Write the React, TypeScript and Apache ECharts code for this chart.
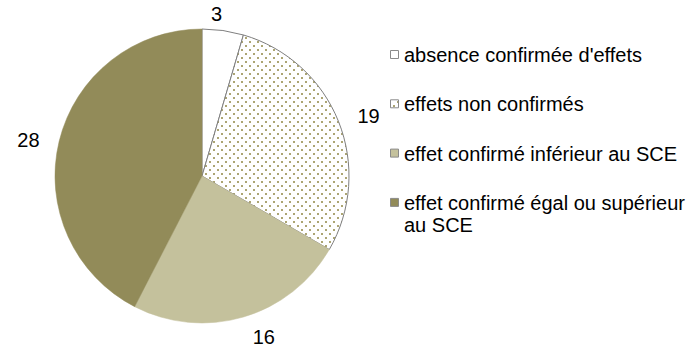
import React, { useEffect, useRef } from 'react';
import * as echarts from 'echarts';

const categories = [
  "absence confirmée d'effets",
  'effets non confirmés',
  'effet confirmé inférieur au SCE',
  'effet confirmé égal ou supérieur au SCE',
];
const legendLines = [
  ["absence confirmée d'effets"],
  ['effets non confirmés'],
  ['effet confirmé inférieur au SCE'],
  ['effet confirmé égal ou supérieur', 'au SCE'],
];
const values = [3, 19, 16, 28];

const FONT = '"Liberation Sans", Arial, sans-serif';

function makeDots(): HTMLCanvasElement {
  const c = document.createElement('canvas');
  c.width = 8;
  c.height = 8;
  const ctx = c.getContext('2d')!;
  ctx.fillStyle = '#ffffff';
  ctx.fillRect(0, 0, 8, 8);
  ctx.fillStyle = '#aca573';
  ctx.fillRect(1, 1, 2, 2);
  ctx.fillRect(5, 5, 2, 2);
  return c;
}

export default function App() {
  const ref = useRef<HTMLDivElement>(null);
  useEffect(() => {
    document.body.style.margin = '0';
    const chart = echarts.init(ref.current!, undefined, { renderer: 'svg' });
    const dots = { image: makeDots(), repeat: 'repeat' } as any;
    const fills: any[] = ['#ffffff', dots, '#c4c19c', '#928b59'];
    const borders = ['#7f7f7f', '#7f7f7f', '#c4c19c', '#928b59'];
    const offsets: number[][] = [[-19, -2], [0, 0], [0, 6], [0, 2]];

    const graphic: any[] = [];
    legendLines.forEach((lines, i) => {
      const top = 50 + i * 49.3;
      graphic.push({
        type: 'rect',
        shape: { x: 390.5, y: top + 0.5, width: 8, height: 8 },
        style: { fill: fills[i], stroke: '#8a8a8a', lineWidth: 1 },
      });
      graphic.push({
        type: 'text',
        x: 404,
        y: top + 5 - 11,
        style: {
          text: lines.join('\n'),
          font: `20px ${FONT}`,
          fill: '#000',
          verticalAlign: 'top',
          lineHeight: 22,
        },
      });
    });

    chart.setOption({
      animation: false,
      backgroundColor: '#ffffff',
      graphic,
      series: [
        {
          type: 'pie',
          center: [202, 176],
          radius: 147,
          startAngle: 90,
          clockwise: true,
          avoidLabelOverlap: false,
          label: {
            show: true,
            position: 'outside',
            formatter: '{c}',
            color: '#000',
            fontSize: 20,
            fontFamily: FONT,
          },
          labelLine: { show: false, length: 15, length2: 0 },
          emphasis: { disabled: true },
          data: categories.map((name, i) => ({
            name,
            value: values[i],
            itemStyle: {
              color: fills[i],
              borderColor: borders[i],
              borderWidth: i < 2 ? 1 : 0.5,
            },
            label: { offset: offsets[i] },
          })),
        },
      ],
    });
    return () => chart.dispose();
  }, []);
  return (
    <div
      ref={ref}
      style={{ position: 'absolute', left: 0, top: 0, width: 697, height: 359 }}
    />
  );
}
